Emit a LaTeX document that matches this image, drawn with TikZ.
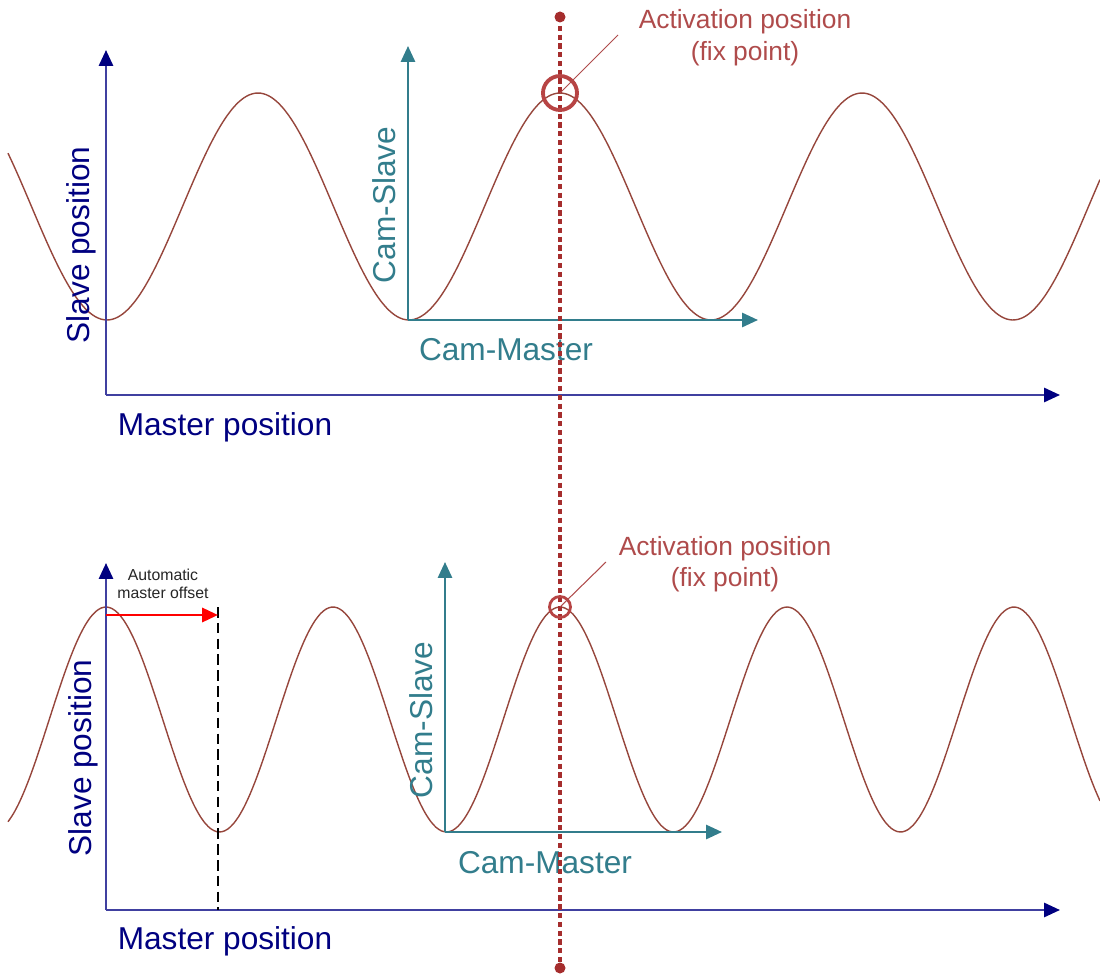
\documentclass[tikz,border=0pt]{standalone}
\usepackage{fontspec}
\setmainfont{Liberation Sans}
\usetikzlibrary{arrows.meta}
\definecolor{axisblue}{RGB}{0,0,128}
\definecolor{camteal}{RGB}{50,125,140}
\definecolor{curvebrown}{RGB}{150,70,60}
\definecolor{fixred}{RGB}{175,75,75}
\definecolor{dotred}{RGB}{165,45,45}
\tikzset{
  mainaxis/.style={axisblue!75, line width=1.3pt, -{Triangle[width=8pt,length=9pt,color=axisblue]}},
  camaxis/.style={camteal, line width=1.3pt, -{Triangle[width=8pt,length=9pt]}},
  camcurve/.style={curvebrown, line width=0.8pt, smooth, samples=200},
  biglabel/.style={font=\fontsize{18}{20}\selectfont},
  fixlabel/.style={fixred, align=center, font=\fontsize{15}{18}\selectfont},
}
\begin{document}
\begin{tikzpicture}[x=0.02cm,y=-0.02cm]
\useasboundingbox (0,0) rectangle (1100,980);
% upper diagram
\coordinate (o1) at (106,395);
\coordinate (y1) at (106,50);
\coordinate (x1) at (1060,395);
\coordinate (co1) at (408,320);
\coordinate (cy1) at (408,46);
\coordinate (cx1) at (758,320);
\draw[camcurve] plot[domain=8:1100] (\x,{206.5-113.5*cos((\x-560)/302*360)});
\draw[mainaxis] (o1) -- (y1);
\draw[mainaxis] (o1) -- (x1);
\draw[camaxis] (co1) -- (cy1);
\draw[camaxis] (co1) -- (cx1);
\node[biglabel, axisblue, rotate=90] (sp1) at (81,245) {Slave position};
\node[biglabel, axisblue] (mp1) at (225,427) {Master position};
\node[biglabel, camteal, rotate=90] (cs1) at (384,205) {Cam-Slave};
\node[biglabel, camteal] (cm1) at (506,350) {Cam-Master};
% lower diagram
\coordinate (o2) at (106,910);
\coordinate (y2) at (106,563);
\coordinate (x2) at (1060,910);
\coordinate (co2) at (445,832);
\coordinate (cy2) at (445,562);
\coordinate (cx2) at (722,832);
\draw[camcurve] plot[domain=8:1100] (\x,{719.5-112.5*cos((\x-560)/227*360)});
\draw[mainaxis] (o2) -- (y2);
\draw[mainaxis] (o2) -- (x2);
\draw[camaxis] (co2) -- (cy2);
\draw[camaxis] (co2) -- (cx2);
\node[biglabel, axisblue, rotate=90] (sp2) at (83,758) {Slave position};
\node[biglabel, axisblue] (mp2) at (225,941) {Master position};
\node[biglabel, camteal, rotate=90] (cs2) at (421,720) {Cam-Slave};
\node[biglabel, camteal] (cm2) at (545,863) {Cam-Master};
% automatic master offset
\coordinate (off0) at (106,615);
\coordinate (off1) at (218,615);
\coordinate (dtop) at (218,607);
\coordinate (dbot) at (218,910);
\draw[black, line width=0.8pt, dash pattern=on 6pt off 3pt] (dtop) -- (dbot);
\draw[red, line width=1.6pt, -{Triangle[width=8pt,length=9pt]}] (off0) -- (off1);
\node[align=center, gray!30!black, font=\fontsize{9}{10}\selectfont] (aut) at (163,584) {Automatic\\master offset};
% activation position
\coordinate (dot1) at (560,17);
\coordinate (dot2) at (560,968);
\draw[dotred, line width=1.8pt, dash pattern=on 3pt off 2pt] (dot1) -- (dot2);
\fill[dotred] (dot1) circle (5.5);
\fill[dotred] (dot2) circle (5.5);
\node[draw=fixred!90!red, line width=2.2pt, circle, minimum size=34*0.02cm, inner sep=0pt] (fix1) at (560,93) {};
\node[draw=fixred!90!red, line width=1.6pt, circle, minimum size=21*0.02cm, inner sep=0pt] (fix2) at (560,607) {};
\coordinate (lead1) at (618,35);
\coordinate (lead2) at (606,562);
\draw[fixred, line width=0.6pt] (fix1.center) -- (lead1);
\draw[fixred, line width=0.6pt] (fix2.center) -- (lead2);
\node[fixlabel] (act1) at (745,38) {Activation position\\(fix point)};
\node[fixlabel] (act2) at (725,564) {Activation position\\(fix point)};
\end{tikzpicture}
\end{document}
